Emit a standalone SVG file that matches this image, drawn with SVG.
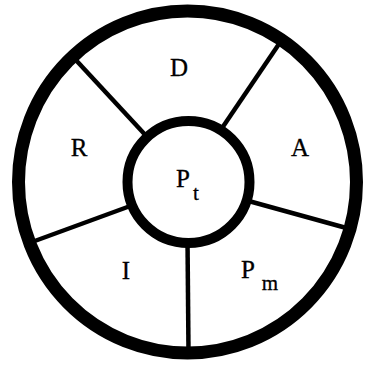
<svg xmlns="http://www.w3.org/2000/svg" width="371" height="366" viewBox="0 0 371 366">
<style>
.lbl{font-family:"Liberation Serif","DejaVu Serif",serif;font-size:25px;fill:#000;stroke:#000;stroke-width:0.3;text-anchor:middle}
.sub{font-size:21px}
.spoke{stroke:#000;stroke-width:4.5;fill:none;stroke-linecap:butt}
</style>
<rect width="371" height="366" fill="#fff"/>
<g id="outer-ring">
<ellipse cx="187.5" cy="182" rx="169" ry="171" fill="#fff" stroke="#000" stroke-width="13"/>
</g>
<g id="connectors">
<line class="spoke" x1="74" y1="58" x2="150" y2="140"/>
<line class="spoke" x1="281" y1="41" x2="218" y2="134"/>
<line class="spoke" x1="350" y1="229" x2="245" y2="200"/>
<line class="spoke" x1="187.5" y1="240" x2="188.5" y2="352"/>
<line class="spoke" x1="32" y1="242" x2="133" y2="205"/>
</g>
<g id="Pt">
<circle cx="188.5" cy="182" r="61" fill="#fff" stroke="#000" stroke-width="10"/>
<text class="lbl" x="183" y="187">P</text><text class="lbl sub" x="196" y="200">t</text>
</g>
<g id="D"><text class="lbl" x="179" y="76">D</text></g>
<g id="R"><text class="lbl" x="79" y="156">R</text></g>
<g id="A"><text class="lbl" x="300" y="156">A</text></g>
<g id="I"><text class="lbl" x="126" y="279">I</text></g>
<g id="Pm"><text class="lbl" x="248" y="278">P</text><text class="lbl sub" x="270" y="290">m</text></g>
</svg>
